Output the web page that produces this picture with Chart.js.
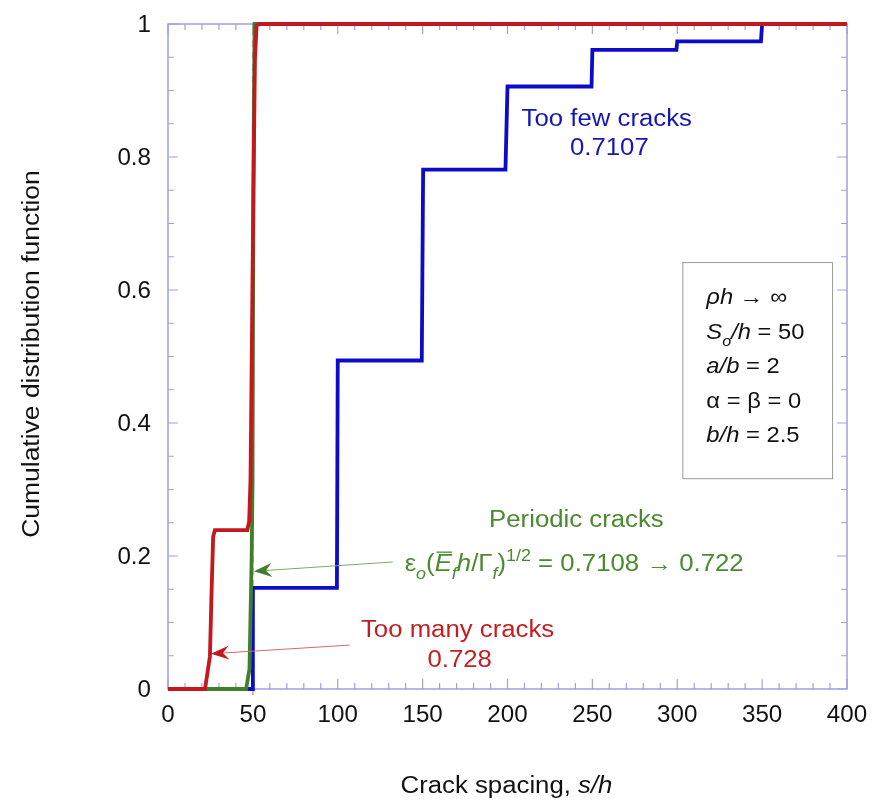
<!DOCTYPE html>
<html>
<head>
<meta charset="utf-8">
<script src="https://cdn.jsdelivr.net/npm/chart.js@4/dist/chart.umd.min.js"></script>
<style>
  html, body { margin: 0; padding: 0; background: #ffffff; }
  canvas { display: block; }
</style>
</head>
<body>
<canvas id="cdf" width="872" height="809"></canvas>
<script>
// Crack spacing s/h and cumulative distribution values for each simulation case
const tooManyX = [0, 21.8, 24.7, 25.7, 26.6, 27.6, 46.7, 47.8, 48.6, 50.2, 51.2, 52.2, 54, 400];
const tooManyY = [0, 0, 0.049, 0.149, 0.229, 0.239, 0.239, 0.252, 0.314, 0.72, 0.946, 0.998, 1, 1];

const periodicX = [0, 46, 48, 49.3, 49.8, 50.3, 51, 400];
const periodicY = [0, 0, 0.03, 0.2, 0.31, 0.75, 1, 1];

const tooFewX = [0, 49.5, 50, 99.5, 100, 149.5, 150.3, 198.8, 200, 249.5, 250, 299.5, 300, 349.3, 350, 400];
const tooFewY = [0, 0, 0.152, 0.152, 0.494, 0.494, 0.781, 0.781, 0.906, 0.906, 0.961, 0.961, 0.974, 0.974, 1, 1];

// Axis tick labels
const xTickLabels = [0, 50, 100, 150, 200, 250, 300, 350, 400];
const yTickLabels = [0, 0.2, 0.4, 0.6, 0.8, 1];

// Reference spacing S_o/h
const periodicSpacing = 50;

const RED = '#c3181d', GREEN = '#3f7f2b', BLUE = '#0c0cc8';
const RED_TXT = '#c21f22', GREEN_TXT = '#4a8a30', BLUE_TXT = '#1616b4';
const AXIS = '#a0a0e0';
const FONT = '"Liberation Sans", Arial, Helvetica, sans-serif';
const HS = 1.12;

function pts(xs, ys) { return xs.map((x, i) => ({ x, y: ys[i] })); }

// Text with a slight horizontal stretch
function text(ctx, str, x, y, opt) {
  const o = Object.assign({ size: 23, italic: false, color: '#000', align: 'left', hs: HS }, opt || {});
  ctx.save();
  ctx.font = (o.italic ? 'italic ' : '') + o.size + 'px ' + FONT;
  ctx.fillStyle = o.color;
  ctx.textBaseline = 'alphabetic';
  ctx.textAlign = 'left';
  const w = ctx.measureText(str).width * o.hs;
  const x0 = o.align === 'center' ? x - w / 2 : o.align === 'right' ? x - w : x;
  ctx.translate(x0, y);
  ctx.scale(o.hs, 1);
  ctx.fillText(str, 0, 0);
  ctx.restore();
  return w;
}

// Mixed-style text run: segments may be italic, subscript, superscript or overbarred
function rich(ctx, segs, x, y, opt) {
  const o = Object.assign({ size: 23, color: '#000', align: 'left', hs: HS }, opt || {});
  const small = Math.round(o.size * 0.7);
  const measure = s => {
    ctx.font = (s.it ? 'italic ' : '') + ((s.sub || s.sup) ? small : o.size) + 'px ' + FONT;
    return ctx.measureText(s.t).width * o.hs;
  };
  ctx.save();
  const total = segs.reduce((a, s) => a + measure(s), 0);
  let cx = o.align === 'center' ? x - total / 2 : x;
  segs.forEach(s => {
    const w = measure(s);
    const sz = (s.sub || s.sup) ? small : o.size;
    const dy = s.sub ? o.size * 0.34 : s.sup ? -o.size * 0.42 : 0;
    text(ctx, s.t, cx, y + dy, { size: sz, italic: !!s.it, color: o.color, hs: o.hs });
    if (s.bar) {
      ctx.strokeStyle = o.color;
      ctx.lineWidth = 1.3;
      ctx.beginPath();
      ctx.moveTo(cx + 2, y - o.size * 0.82);
      ctx.lineTo(cx + w, y - o.size * 0.82);
      ctx.stroke();
    }
    cx += w;
  });
  ctx.restore();
}

function arrow(ctx, x1, y1, x2, y2, lineColor, headColor) {
  const ang = Math.atan2(y2 - y1, x2 - x1);
  const L = 18, W = 7, notch = 12;
  ctx.save();
  ctx.strokeStyle = lineColor;
  ctx.lineWidth = 1;
  ctx.beginPath();
  ctx.moveTo(x1, y1);
  ctx.lineTo(x2 - Math.cos(ang) * notch, y2 - Math.sin(ang) * notch);
  ctx.stroke();
  ctx.translate(x2, y2);
  ctx.rotate(ang);
  ctx.fillStyle = headColor;
  ctx.beginPath();
  ctx.moveTo(0, 0);
  ctx.lineTo(-L, -W);
  ctx.lineTo(-notch, 0);
  ctx.lineTo(-L, W);
  ctx.closePath();
  ctx.fill();
  ctx.restore();
}

const framePlugin = {
  id: 'frame',
  beforeDatasetsDraw(chart) {
    const { ctx, chartArea: a, scales: { x, y } } = chart;
    const X = v => x.getPixelForValue(v), Y = v => y.getPixelForValue(v);

    // frame with inward ticks on all four sides
    ctx.save();
    ctx.strokeStyle = AXIS;
    ctx.lineWidth = 1.5;
    ctx.strokeRect(a.left, a.top, a.right - a.left, a.bottom - a.top);
    ctx.lineWidth = 1.2;
    ctx.beginPath();
    for (let v = 0; v <= 400; v += 10) {
      const len = v % 50 === 0 ? 10 : 6;
      const px = X(v);
      ctx.moveTo(px, a.bottom); ctx.lineTo(px, a.bottom - len);
      ctx.moveTo(px, a.top); ctx.lineTo(px, a.top + len);
    }
    for (let i = 0; i <= 20; i++) {
      const len = i % 4 === 0 ? 10 : 6;
      const py = Y(i * 0.05);
      ctx.moveTo(a.left, py); ctx.lineTo(a.left + len, py);
      ctx.moveTo(a.right, py); ctx.lineTo(a.right - len, py);
    }
    ctx.stroke();
    ctx.restore();

    // dashed reference at the periodic spacing
    ctx.save();
    ctx.strokeStyle = '#bdbdbd';
    ctx.lineWidth = 2;
    ctx.setLineDash([7, 5]);
    ctx.beginPath();
    ctx.moveTo(X(periodicSpacing), Y(0) + 6);
    ctx.lineTo(X(periodicSpacing), Y(1));
    ctx.stroke();
    ctx.restore();

    // tick labels
    xTickLabels.forEach(v => text(ctx, String(v), X(v), a.bottom + 33, { size: 23, align: 'center', hs: 1.05, color: '#111' }));
    yTickLabels.forEach(v => text(ctx, String(v), a.left - 17, Y(v) + 8, { size: 23, align: 'right', hs: 1.05, color: '#111' }));

    // axis titles
    rich(ctx, [{ t: 'Crack spacing, ' }, { t: 's/h', it: true }], (a.left + a.right) / 2 - 1, 793, { size: 23, align: 'center', color: '#111' });
    ctx.save();
    ctx.translate(39, 354);
    ctx.rotate(-Math.PI / 2);
    text(ctx, 'Cumulative distribution function', 0, 0, { size: 23, align: 'center', hs: 1.15, color: '#111' });
    ctx.restore();
  },
  afterDatasetsDraw(chart) {
    const { ctx, scales: { x, y } } = chart;
    const X = v => x.getPixelForValue(v), Y = v => y.getPixelForValue(v);

    // parameter box
    const bx0 = X(303), bx1 = X(391.2), by0 = Y(0.642), by1 = Y(0.317);
    ctx.save();
    ctx.fillStyle = '#fff';
    ctx.fillRect(bx0, by0, bx1 - bx0, by1 - by0);
    ctx.strokeStyle = '#9a9a9a';
    ctx.lineWidth = 1;
    ctx.strokeRect(bx0 + 0.5, by0 + 0.5, bx1 - bx0, by1 - by0);
    ctx.restore();
    const lx = bx0 + 24;
    const rows = [
      [{ t: 'ρh', it: true }, { t: ' → ∞' }],
      [{ t: 'S', it: true }, { t: 'o', it: true, sub: true }, { t: '/h', it: true }, { t: ' = 50' }],
      [{ t: 'a/b', it: true }, { t: ' = 2' }],
      [{ t: 'α = β = 0' }],
      [{ t: 'b/h', it: true }, { t: ' = 2.5' }]
    ];
    rows.forEach((r, i) => rich(ctx, r, lx, by0 + 42 + i * 34.5, { size: 22, color: '#111', hs: 1.08 }));

    // case annotations
    text(ctx, 'Too few cracks', X(258.5), Y(0.847), { color: BLUE_TXT, align: 'center' });
    text(ctx, '0.7107', X(260), Y(0.803), { color: BLUE_TXT, align: 'center' });

    text(ctx, 'Periodic cracks', X(240.6), Y(0.2436), { color: GREEN_TXT, align: 'center' });
    rich(ctx, [
      { t: 'ε' }, { t: 'o', it: true, sub: true }, { t: '(' },
      { t: 'E', it: true, bar: true }, { t: 'f', it: true, sub: true },
      { t: 'h', it: true }, { t: '/Γ' }, { t: 'f', it: true, sub: true },
      { t: ')' }, { t: '1/2', sup: true }, { t: ' = 0.7108 → 0.722' }
    ], X(139.4), Y(0.1774), { color: GREEN_TXT });
    arrow(ctx, X(132.4), Y(0.191), X(50.6), Y(0.177), '#7fa86a', GREEN);

    text(ctx, 'Too many cracks', X(170.6), Y(0.078), { color: RED_TXT, align: 'center' });
    text(ctx, '0.728', X(171.8), Y(0.033), { color: RED_TXT, align: 'center' });
    arrow(ctx, X(107), Y(0.066), X(25.3), Y(0.053), '#d06a6a', RED);
  }
};

const lineStyle = { showLine: true, pointRadius: 0, borderWidth: 3.8, tension: 0, fill: false, borderJoinStyle: 'miter', clip: false };

new Chart(document.getElementById('cdf'), {
  type: 'scatter',
  data: {
    datasets: [
      Object.assign({ label: 'Too many cracks', data: pts(tooManyX, tooManyY), borderColor: RED }, lineStyle),
      Object.assign({ label: 'Periodic cracks', data: pts(periodicX, periodicY), borderColor: GREEN }, lineStyle),
      Object.assign({ label: 'Too few cracks', data: pts(tooFewX, tooFewY), borderColor: BLUE }, lineStyle)
    ]
  },
  options: {
    responsive: false,
    animation: false,
    devicePixelRatio: 1,
    layout: { padding: { left: 0, top: 24, right: 25, bottom: 0 } },
    plugins: { legend: { display: false }, tooltip: { enabled: false } },
    scales: {
      x: {
        type: 'linear', min: 0, max: 400,
        ticks: { display: false, stepSize: 50 },
        grid: { display: false }, border: { display: false },
        afterFit: s => { s.height = 120; }
      },
      y: {
        type: 'linear', min: 0, max: 1,
        ticks: { display: false, stepSize: 0.2 },
        grid: { display: false }, border: { display: false },
        afterFit: s => { s.width = 168; }
      }
    }
  },
  plugins: [framePlugin]
});
</script>
</body>
</html>
